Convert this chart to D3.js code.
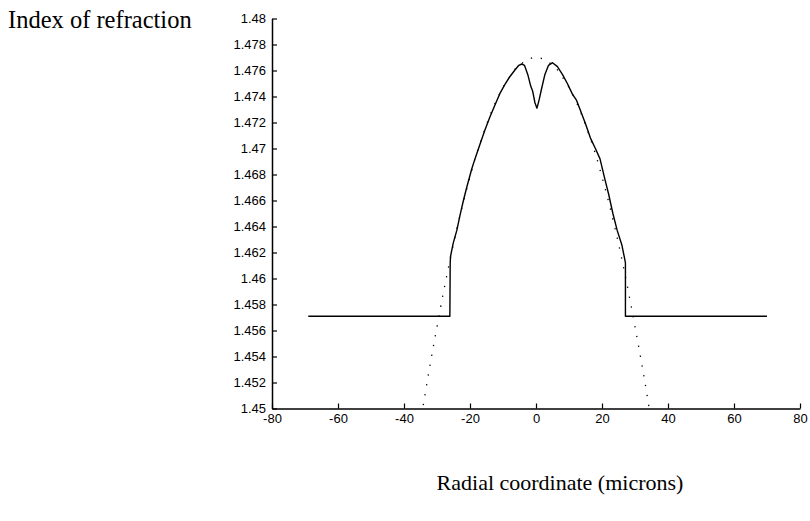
<!DOCTYPE html>
<html>
<head>
<meta charset="utf-8">
<script src="https://cdn.jsdelivr.net/npm/d3@7"></script>
<style>
  html, body { margin: 0; padding: 0; background: #fff; }
  svg { display: block; }
  .tick text { font-family: "Liberation Sans", Arial, Helvetica, sans-serif; font-size: 13px; fill: #000; }
  .lbl { font-family: "Liberation Serif", "Times New Roman", serif; fill: #000; }
</style>
</head>
<body>
<svg id="chart" width="810" height="521"></svg>
<script>
// ---- data ----
const xTicks = [-80, -60, -40, -20, 0, 20, 40, 60, 80];
const yTicks = [1.45, 1.452, 1.454, 1.456, 1.458, 1.46, 1.462, 1.464, 1.466, 1.468, 1.47, 1.472, 1.474, 1.476, 1.478, 1.48];

// measured profile (solid line): radial coordinate (microns) and index
const measuredR = [-69, -26.1, -26.0, -25.9, -25.1, -24.0, -23.0, -22.0, -21.0, -19.5, -18.5, -17.0, -15.5, -14.0, -12.5, -11.0, -9.5, -8.0, -6.5, -5.2, -4.3, -3.5, -2.5, -1.6, -1.0, -0.3, 0.3, 1.0, 1.6, 2.7, 3.8, 5.0, 6.5, 8.0, 9.5, 11.0, 12.3, 13.5, 15.0, 16.5, 18.0, 19.4, 20.9, 22.0, 23.3, 24.6, 26.0, 26.8, 27.1, 27.1, 70];
const measuredN = [1.4571, 1.4571, 1.4612, 1.4617, 1.4627, 1.4637, 1.4649, 1.4660, 1.4670, 1.4684, 1.4692, 1.4703, 1.4714, 1.4724, 1.4733, 1.4742, 1.4749, 1.4755, 1.4760, 1.4764, 1.4765, 1.4764, 1.4757, 1.4748, 1.4744, 1.4735, 1.4731, 1.4738, 1.4745, 1.4757, 1.4764, 1.4766, 1.4763, 1.4757, 1.4750, 1.4742, 1.4737, 1.4729, 1.4719, 1.4708, 1.4700, 1.4692, 1.4676, 1.4665, 1.4650, 1.4637, 1.4626, 1.4616, 1.4612, 1.4571, 1.4571];

// ideal parabolic profile (dotted line)
const idealR = [-36, -34, -32, -30, -28, -26, -24, -22, -20, -18, -16, -14, -12, -10, -8, -6, -4, -2, 0, 2, 4, 6, 8, 10, 12, 14, 16, 18, 20, 22, 24, 26, 28, 30, 32, 34, 36];
const idealN = [1.4472, 1.4505, 1.4535, 1.4563, 1.4590, 1.4615, 1.4638, 1.4659, 1.4678, 1.4696, 1.4711, 1.4725, 1.4737, 1.4747, 1.4755, 1.4762, 1.4766, 1.4769, 1.4770, 1.4769, 1.4766, 1.4762, 1.4755, 1.4747, 1.4737, 1.4725, 1.4711, 1.4696, 1.4678, 1.4659, 1.4638, 1.4615, 1.4590, 1.4563, 1.4535, 1.4505, 1.4472];

const yLabel = "Index of refraction";
const xLabel = "Radial coordinate (microns)";

// ---- drawing ----
const svg = d3.select("#chart");
const mLeft = 272, mRight = 800, mTop = 18.5, mBottom = 408.5;

const x = d3.scaleLinear().domain([-80, 80]).range([mLeft, mRight]);
const y = d3.scaleLinear().domain([1.45, 1.48]).range([mBottom, mTop]);

svg.append("defs").append("clipPath").attr("id", "plotclip")
  .append("rect").attr("x", mLeft).attr("y", mTop).attr("width", mRight - mLeft).attr("height", mBottom - mTop);

const line = d3.line().x(d => x(d[0])).y(d => y(d[1]));

svg.append("path")
  .datum(idealR.map((r, i) => [r, idealN[i]]))
  .attr("clip-path", "url(#plotclip)")
  .attr("d", d3.line().curve(d3.curveCatmullRom).x(d => x(d[0])).y(d => y(d[1])))
  .attr("fill", "none")
  .attr("stroke", "#000")
  .attr("stroke-width", 1.3)
  .attr("stroke-dasharray", "1.3,8.7");

svg.append("path")
  .datum(measuredR.map((r, i) => [r, measuredN[i]]))
  .attr("d", line)
  .attr("fill", "none")
  .attr("stroke", "#000")
  .attr("stroke-width", 1.4)
  .attr("stroke-linejoin", "round");

const xAxis = d3.axisBottom(x).tickValues(xTicks).tickFormat(d => String(d))
  .tickSizeInner(-5).tickSizeOuter(0).tickPadding(5);
const yAxis = d3.axisLeft(y).tickValues(yTicks).tickFormat(d => String(+d.toFixed(3)))
  .tickSizeInner(-5).tickSizeOuter(0).tickPadding(6);

const gx = svg.append("g").attr("transform", `translate(0,${mBottom})`).call(xAxis);
const gy = svg.append("g").attr("transform", `translate(${mLeft},0)`).call(yAxis);
[gx, gy].forEach(g => {
  g.select(".domain").attr("stroke", "#000").attr("stroke-width", 1.5);
  g.selectAll(".tick line").attr("stroke", "#000").attr("stroke-width", 1.2);
});
gx.selectAll(".tick text").attr("dy", "0.71em");

svg.append("text").attr("class", "lbl")
  .attr("x", 8).attr("y", 28)
  .attr("font-size", 24.5)
  .text(yLabel);

svg.append("text").attr("class", "lbl")
  .attr("x", 560).attr("y", 490)
  .attr("text-anchor", "middle")
  .attr("font-size", 22)
  .text(xLabel);
</script>
</body>
</html>
